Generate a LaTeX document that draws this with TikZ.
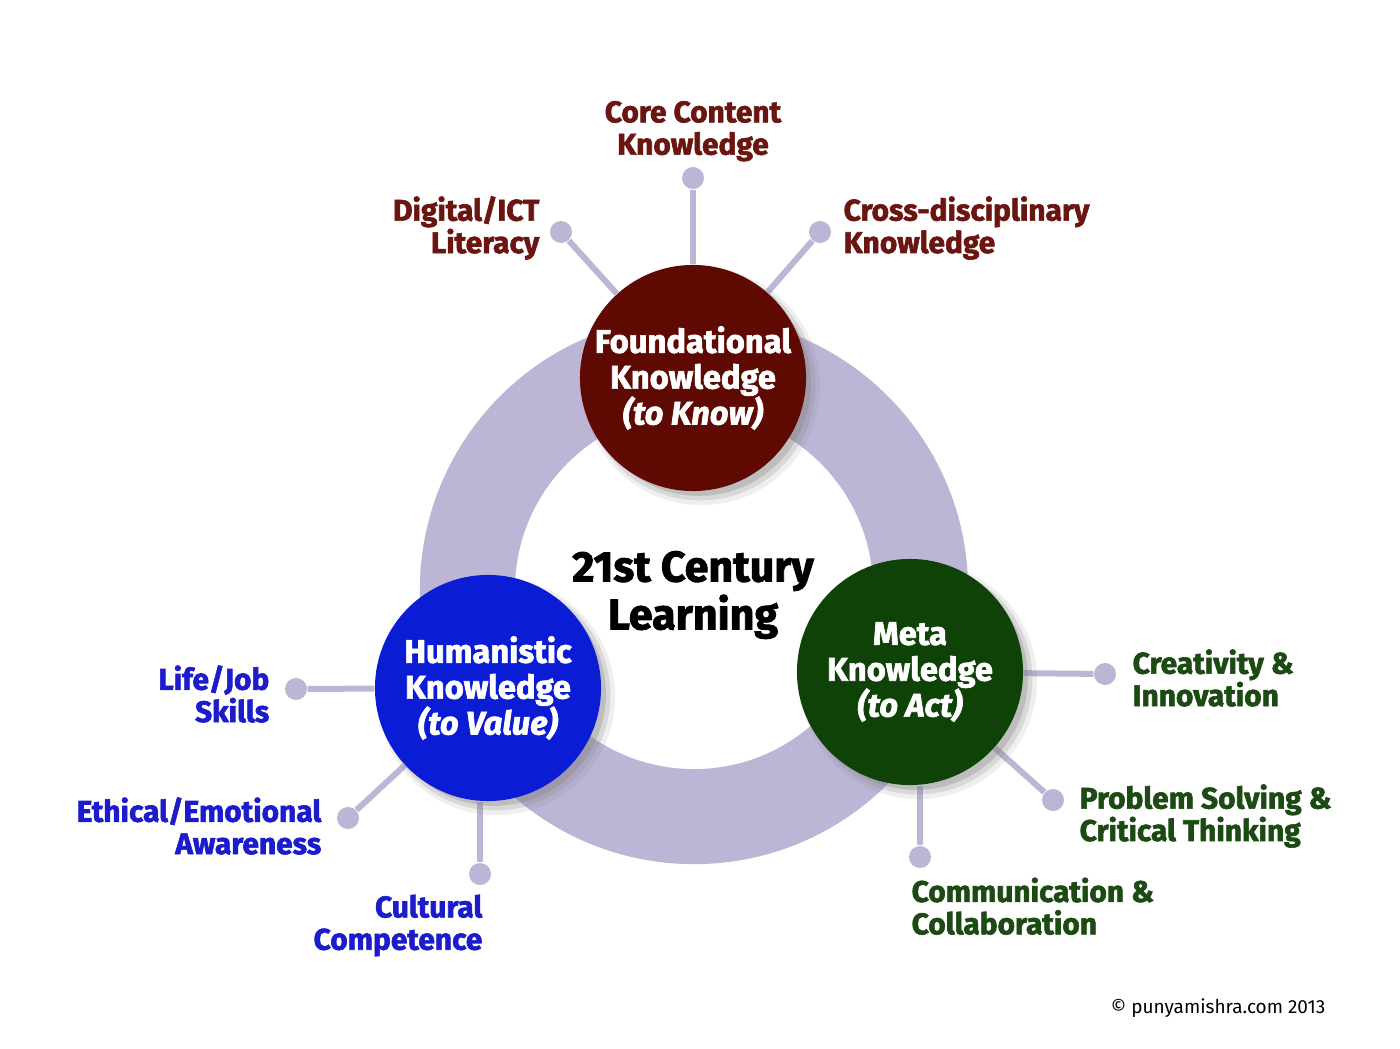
\documentclass[tikz,border=0pt]{standalone}
\usepackage{fontspec}
\setmainfont{Fira Sans}[BoldFeatures={FakeBold=2}, BoldItalicFeatures={FakeBold=2}]
\usetikzlibrary{shadows, backgrounds, positioning}
\definecolor{knowred}{HTML}{5E0A03}
\definecolor{knowtext}{HTML}{6B1511}
\definecolor{valueblue}{HTML}{0A1CD4}
\definecolor{valuetext}{HTML}{1C1CCC}
\definecolor{actgreen}{HTML}{0F4206}
\definecolor{acttext}{HTML}{1B4A12}
\definecolor{ringlav}{HTML}{BDB5D6}
\tikzset{
  hub/.style={circle, minimum size=2.26cm, inner sep=0pt, text=white, align=center,
    font=\fontsize{9.3}{10.2}\selectfont\bfseries,
    drop shadow={shadow xshift=0.08cm, shadow yshift=-0.08cm, shadow scale=1.05, opacity=0.12},
    drop shadow={shadow xshift=0.07cm, shadow yshift=-0.07cm, shadow scale=1.02, opacity=0.2},
    drop shadow={shadow xshift=0.06cm, shadow yshift=-0.06cm, shadow scale=0.99, opacity=0.3}},
  pin/.style={circle, fill=ringlav, minimum size=0.22cm, inner sep=0pt},
  spoke/.style={draw=ringlav, line width=0.06cm},
  skill/.style={inner sep=0pt, font=\fontsize{8.5}{9.2}\selectfont\bfseries}
}

\begin{document}
\begin{tikzpicture}[x=0.01cm, y=-0.01cm]
  \useasboundingbox (0,0) rectangle (1400,1049);
  % The three knowledge hubs
  \node[hub, fill=knowred] (know) at (693,378) {Foundational\\Knowledge\\\textit{(to Know)}};
  \node[hub, fill=valueblue] (value) at (488,688) {Humanistic\\Knowledge\\\textit{(to Value)}};
  \node[hub, fill=actgreen] (act) at (910,672) {Meta\\Knowledge\\\textit{(to Act)}};
  \node[font=\fontsize{12.2}{12.2}\selectfont\bfseries, align=center] (title) at (693,595)
    {21st Century\\Learning};
  % End pins of the spokes
  \foreach \n/\x/\y in {core/693/178, digital/561/232, cross/820/232,
                        life/296/689, ethic/348/818, cult/480/874,
                        creat/1105/674, prob/1053/800, comm/920/857}
    \node[pin] (\n) at (\x,\y) {};
  % Labels, Foundational
  \node[skill, knowtext, align=center, anchor=south] (coretext) at (693,162)
    {Core Content\\Knowledge};
  \node[skill, knowtext, align=right, anchor=east] (digitaltext) at (540,228)
    {Digital/ICT\\Literacy};
  \node[skill, knowtext, align=left, anchor=west] (crosstext) at (843,228)
    {Cross-disciplinary\\Knowledge};
  % Labels, Humanistic
  \node[skill, valuetext, align=right, anchor=east] (lifetext) at (270,694)
    {Life/Job\\Skills};
  \node[skill, valuetext, align=right, anchor=east] (ethictext) at (322,826)
    {Ethical/Emotional\\Awareness};
  \node[skill, valuetext, align=right, anchor=north east] (culttext) at (483,894)
    {Cultural\\Competence};
  % Labels, Meta
  \node[skill, acttext, align=left, anchor=west] (creattext) at (1132,678)
    {Creativity \&\\Innovation};
  \node[skill, acttext, align=left, anchor=west] (probtext) at (1079,816)
    {Problem Solving \&\\Critical Thinking};
  \node[skill, acttext, align=left, anchor=north west] (commtext) at (911,877)
    {Communication \&\\Collaboration};
  \node[anchor=east, inner sep=0pt, font=\fontsize{5.4}{7}\selectfont] (copy) at (1326,1008)
    {\textcopyright{} punyamishra.com 2013};
  % Ring and spokes behind the hubs
  \begin{scope}[on background layer]
    \fill[white] (0,0) rectangle (1400,1049);
    \draw[ringlav, line width=0.95cm] (694,590) circle (2.265cm);
    \foreach \h/\p in {know/core, know/digital, know/cross,
                       value/life, value/ethic, act/creat, act/prob}
      \draw[spoke] (\h) -- (\p);
    % the two plumb spokes
    \draw[spoke] (cult) -- (cult |- value.south);
    \draw[spoke] (comm) -- (comm |- act.south);
  \end{scope}
\end{tikzpicture}
\end{document}
